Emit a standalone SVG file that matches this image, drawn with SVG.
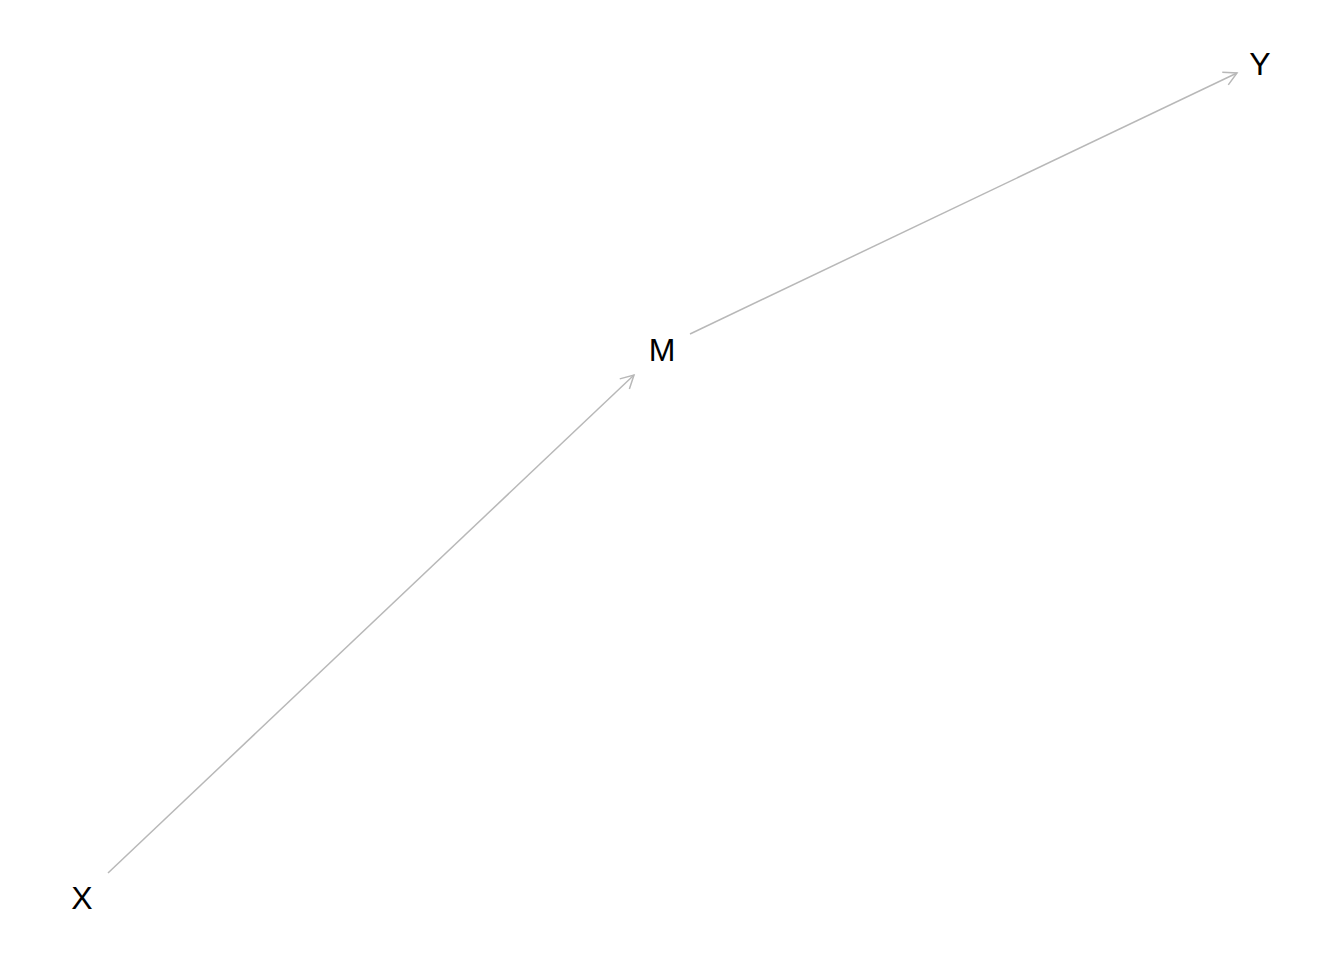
<svg xmlns="http://www.w3.org/2000/svg" width="1344" height="960" viewBox="0 0 1344 960">
<style>
.lbl{font-family:"Liberation Sans",Arial,sans-serif;font-size:32px;fill:#000;text-anchor:middle}
.edge{stroke:#b8b8b8;stroke-width:1.5;fill:none}
</style>
<defs>
<marker id="arr" markerWidth="16" markerHeight="16" refX="14" refY="8" orient="auto" markerUnits="userSpaceOnUse">
<path d="M1,1 L14,8 L1,15" fill="none" stroke="#b8b8b8" stroke-width="1.5"/>
</marker>
</defs>
<rect width="1344" height="960" fill="#fff"/>
<g id="connectors">
<line class="edge" x1="108" y1="873" x2="634" y2="375" marker-end="url(#arr)"/>
<line class="edge" x1="690" y1="334" x2="1237" y2="73" marker-end="url(#arr)"/>
</g>
<g id="node-X"><text class="lbl" x="82" y="909">X</text></g>
<g id="node-M"><text class="lbl" x="662" y="361">M</text></g>
<g id="node-Y"><text class="lbl" x="1260" y="75">Y</text></g>
</svg>
